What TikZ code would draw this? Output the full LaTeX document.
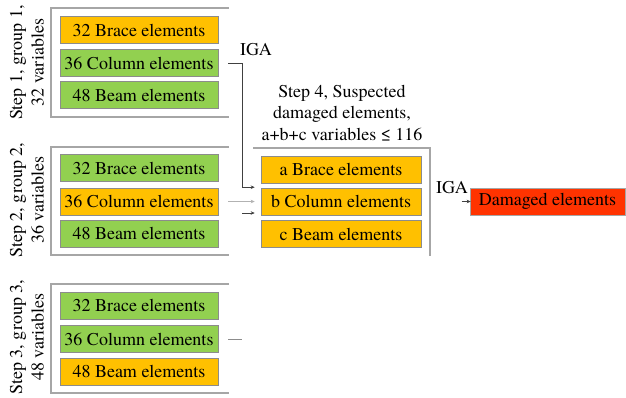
\documentclass[tikz,border=0pt]{standalone}
\usepackage{fontspec}
\setmainfont{texgyretermes}[Extension=.otf, UprightFont=*-regular]
\usetikzlibrary{arrows.meta}
\definecolor{elyellow}{HTML}{FFC000}
\definecolor{elgreen}{HTML}{92D050}
\definecolor{elred}{HTML}{FF3300}
\definecolor{framegrey}{HTML}{A6A6A6}
\begin{document}
\begin{tikzpicture}[x=1pt,y=-1pt,
  txt/.style={font=\fontsize{18}{21.5}\selectfont},
  elbox/.style={txt, draw=black!45, line width=0.6pt, minimum width=158pt,
    minimum height=27pt, inner sep=0pt, anchor=center},
  ybox/.style={elbox, fill=elyellow},
  gbox/.style={elbox, fill=elgreen},
  frame/.style={draw=framegrey, line width=1.1pt},
  steplabel/.style={txt, rotate=90, align=center, inner sep=0pt},
  link/.style={draw=black!75, line width=0.7pt},
  arr/.style={link, -{Stealth[length=4pt,width=3.5pt]}}
]
\useasboundingbox (0,0) rectangle (626,397);

% group frames (open on the right)
\draw[frame] (229,8) -- (51,8) -- (51,117) -- (229,117);
\draw[frame] (229,147) -- (51,147) -- (51,255) -- (229,255);
\draw[frame] (229,284) -- (51,284) -- (51,393) -- (229,393);

% group 1
\node[ybox] (g1b) at (139,30) {32 Brace elements};
\node[gbox] (g1c) at (139,63) {36 Column elements};
\node[gbox] (g1m) at (139,95) {48 Beam elements};
\node[steplabel] (l1) at (27,62.5) {Step 1, group 1,\\32 variables};

% group 2
\node[gbox] (g2b) at (139,168) {32 Brace elements};
\node[ybox] (g2c) at (139,201.5) {36 Column elements};
\node[gbox] (g2m) at (139,233.5) {48 Beam elements};
\node[steplabel] (l2) at (27,200) {Step 2, group 2,\\36 variables};

% group 3
\node[gbox] (g3b) at (139,305.5) {32 Brace elements};
\node[gbox] (g3c) at (139,339) {36 Column elements};
\node[ybox] (g3m) at (139,371.5) {48 Beam elements};
\node[steplabel] (l3) at (27,337) {Step 3, group 3,\\48 variables};

% step 4: suspected damaged elements
\draw[frame] (253,148) -- (430,148) -- (430,256);
\node[txt, align=center, inner sep=0pt] (s4t) at (342,113)
  {Step 4, Suspected\\damaged elements,\\a+b+c variables ≤ 116};
\node[ybox, minimum width=160pt] (s4b) at (341,169.5) {a Brace elements};
\node[ybox, minimum width=160pt] (s4c) at (341,201.5) {b Column elements};
\node[ybox, minimum width=160pt] (s4m) at (341,234) {c Beam elements};

% result
\node[txt, draw=black!35, line width=0.6pt, fill=elred, minimum width=155pt,
  minimum height=27pt, inner sep=0pt] (dmg) at (547.5,201.5) {Damaged elements};

% labels
\node[txt, inner sep=0pt] (iga1) at (256,50) {IGA};
\node[txt, inner sep=0pt] (iga2) at (452,188) {IGA};

% connectors
\draw[arr] ([xshift=10pt]g1c.east) -| ([xshift=-18pt,yshift=0.5pt]s4c.north west)
  -- ([xshift=-6pt,yshift=0.5pt]s4c.north west);
\draw[arr, draw=black!30, line width=0.5pt] ([xshift=10pt]g2c.east) -- ([xshift=-6pt]s4c.west);
\draw[arr] ([xshift=24pt,yshift=-11.5pt]g2c.east) -- ([xshift=-6pt,yshift=-11.5pt]s4c.west);
\draw[link, draw=black!45] ([xshift=10pt]g3c.east) -- ([xshift=24pt]g3c.east);
\draw[arr, line width=0.5pt] ([xshift=-8pt]dmg.west) -- ([xshift=1pt]dmg.west);
\end{tikzpicture}
\end{document}
